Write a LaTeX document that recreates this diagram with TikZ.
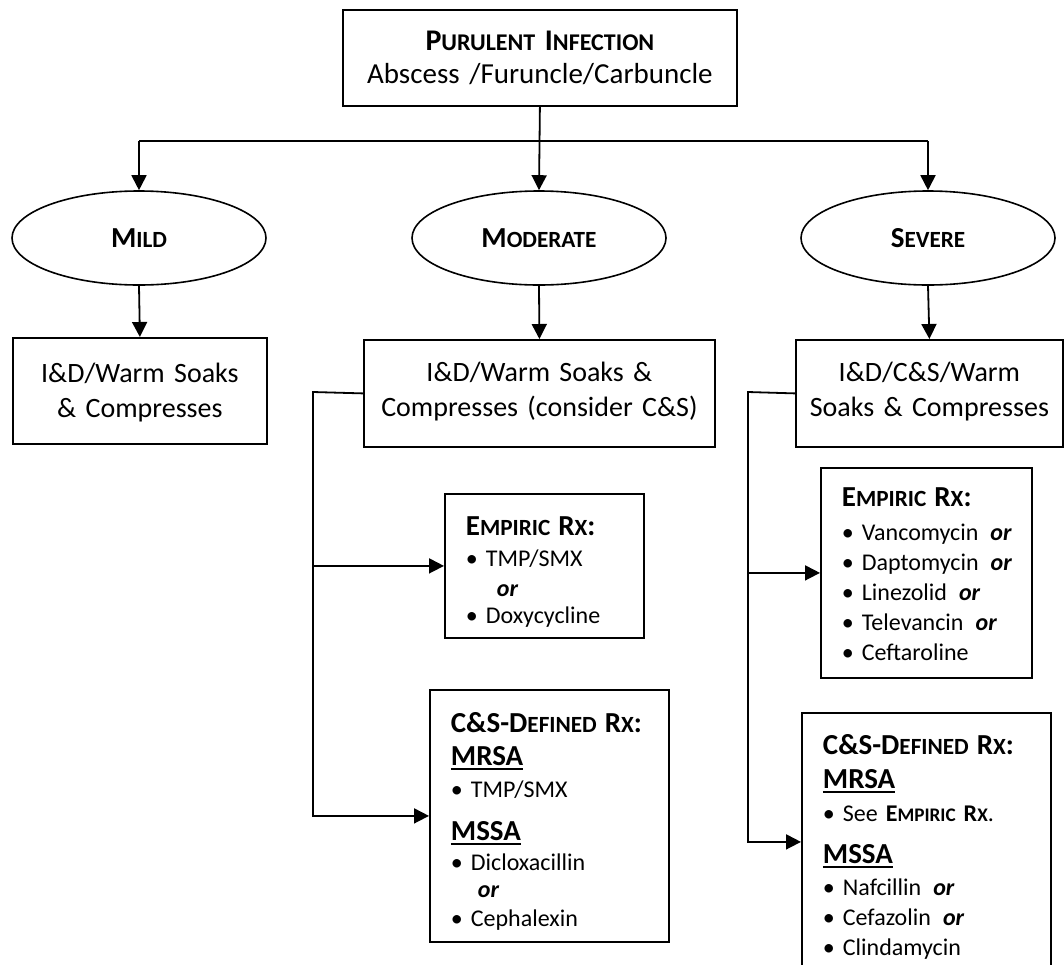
\documentclass[tikz,border=0pt]{standalone}
\usepackage{fontspec}
\setmainfont{Carlito}
\usepackage{tikz}
\usetikzlibrary{shapes.geometric}
\usetikzlibrary{arrows.meta}
\usetikzlibrary{positioning}
\makeatletter
\newcommand{\lc}[1]{{\fontsize{\strip@pt\dimexpr0.8\dimexpr\f@size pt\relax\relax}{0}\selectfont #1}}
\makeatother
\newcommand{\hd}[1]{{\bfseries\fontsize{29}{30}\selectfont #1}}
\newcommand{\ulw}[1]{\leavevmode\setbox0\hbox{#1}\rlap{\rule[-5pt]{\wd0}{2.5pt}}\box0}
\newcommand{\bul}[1]{\mbox{\makebox[20pt][l]{\textbullet}#1}}
\newcommand{\orr}{\textbf{\textit{or}}}
\tikzstyle{mainbox} = [draw=black, line width=1.8pt, rectangle, anchor=north west,
inner xsep=0pt, align=center, font=\fontsize{28}{35}\selectfont, execute at begin node=\strut]
\tikzstyle{rxbox} = [draw=black, line width=1.8pt, rectangle, anchor=north west,
inner xsep=21pt, align=left, font=\fontsize{24}{30}\selectfont, execute at begin node=\strut]
\tikzstyle{grade} = [draw=black, line width=1.6pt, ellipse, minimum width=254pt,
minimum height=94pt, inner sep=0pt, font=\bfseries\fontsize{29}{34}\selectfont]
\tikzstyle{link} = [line width=1.8pt]
\tikzstyle{arr} = [line width=1.8pt, -{Triangle[length=15pt,width=15pt]}]

\begin{document}
\begin{tikzpicture}[x=1pt, y=-1pt]
    \useasboundingbox (0,0) rectangle (1064,964);
    % top of the chart
    \node [mainbox, font=\fontsize{29}{33}\selectfont, text width=394pt, inner ysep=17.6pt, text depth=37.7pt] (purulent) at (342,9)
        {{\bfseries\fontsize{30}{33}\selectfont P\lc{URULENT} I\lc{NFECTION}}\\ Abscess /Furuncle/Carbuncle};
    \node [grade] (mild) at (139,238) {M\lc{ILD}};
    \node [grade] (moderate) at (539,238) {M\lc{ODERATE}};
    \node [grade] (severe) at (928,238) {S\lc{EVERE}};
    \coordinate (barl) at (139,141);
    \coordinate (barr) at (928,141);
    \draw [link] (barl) -- (barr);
    \draw [arr] (barl) -- (mild.north);
    \draw [arr] (barr) -- (severe.north);
    \draw [arr] (purulent.south) -- (moderate.north);
    % local care
    \node [mainbox, text width=254pt, inner ysep=20pt, text depth=41.5pt] (mildcare) at (12,337)
        {I\&D/Warm Soaks\\ \& Compresses};
    \node [mainbox, text width=351pt, inner ysep=17pt, text depth=48.5pt] (modcare) at (363,339)
        {I\&D/Warm Soaks \&\\ Compresses (consider C\&S)};
    \node [mainbox, text width=267pt, inner ysep=17pt, text depth=48.5pt] (sevcare) at (795,339)
        {I\&D/C\&S/Warm\\ Soaks \& Compresses};
    \draw [arr] (mild.south) -- (mildcare.north);
    \draw [arr] (moderate.south) -- (modcare.north);
    \draw [arr] (severe.south) -- (sevcare.north);
    % moderate branch
    \node [rxbox, text width=157pt, inner ysep=20.3pt, text depth=82.4pt] (modemp) at (444,493)
        {\hd{E\lc{MPIRIC} R\lc{X}:}\\[1.5pt]
         \bul{TMP/SMX}\\
         \hspace*{31pt}\orr\\[-3pt]
         \bul{Doxycycline}};
    \node [rxbox, text width=197pt, inner ysep=21.3pt, text depth=188.4pt] (modcs) at (429,689)
        {\hd{\mbox{C\&S-D\lc{EFINED} R\lc{X}:}}\\[3pt]
         \hd{\ulw{MRSA}}\\[2.5pt]
         \bul{TMP/SMX}\\[12.5pt]
         \hd{\ulw{MSSA}}\\[0.5pt]
         \bul{Dicloxacillin}\\[-3pt]
         \hspace*{27pt}\orr\\[-1pt]
         \bul{Cephalexin}};
    \coordinate (modj) at (313,392);
    \draw [arr] (modcare.west) -- (modj) |- (modcs.west);
    \draw [arr] (modj |- modemp.west) -- (modemp.west);
    % severe branch
    \node [rxbox, text width=169pt, inner ysep=18pt, text depth=153pt] (sevemp) at (820,467)
        {\hd{E\lc{MPIRIC} R\lc{X}:}\\[4pt]
         \bul{Vancomycin\enspace\orr}\\
         \bul{Daptomycin\enspace\orr}\\
         \bul{Linezolid\enspace\orr}\\
         \bul{Televancin\enspace\orr}\\
         \bul{Ceftaroline}};
    \node [rxbox, text width=207pt, inner ysep=20.3pt, text depth=196.4pt] (sevcs) at (801,712)
        {\hd{\mbox{C\&S-D\lc{EFINED} R\lc{X}:}}\\[4pt]
         \hd{\ulw{MRSA}}\\[3.5pt]
         \bul{See \textbf{E\lc{MPIRIC} R\lc{X}}.}\\[11.5pt]
         \hd{\ulw{MSSA}}\\[2.5pt]
         \bul{Nafcillin\enspace\orr}\\
         \bul{Cefazolin\enspace\orr}\\
         \bul{Clindamycin}};
    \coordinate (sevj) at (748,392);
    \draw [arr] (sevcare.west) -- (sevj) |- (sevcs.west);
    \draw [arr] (sevj |- sevemp.west) -- (sevemp.west);
\end{tikzpicture}
\end{document}
